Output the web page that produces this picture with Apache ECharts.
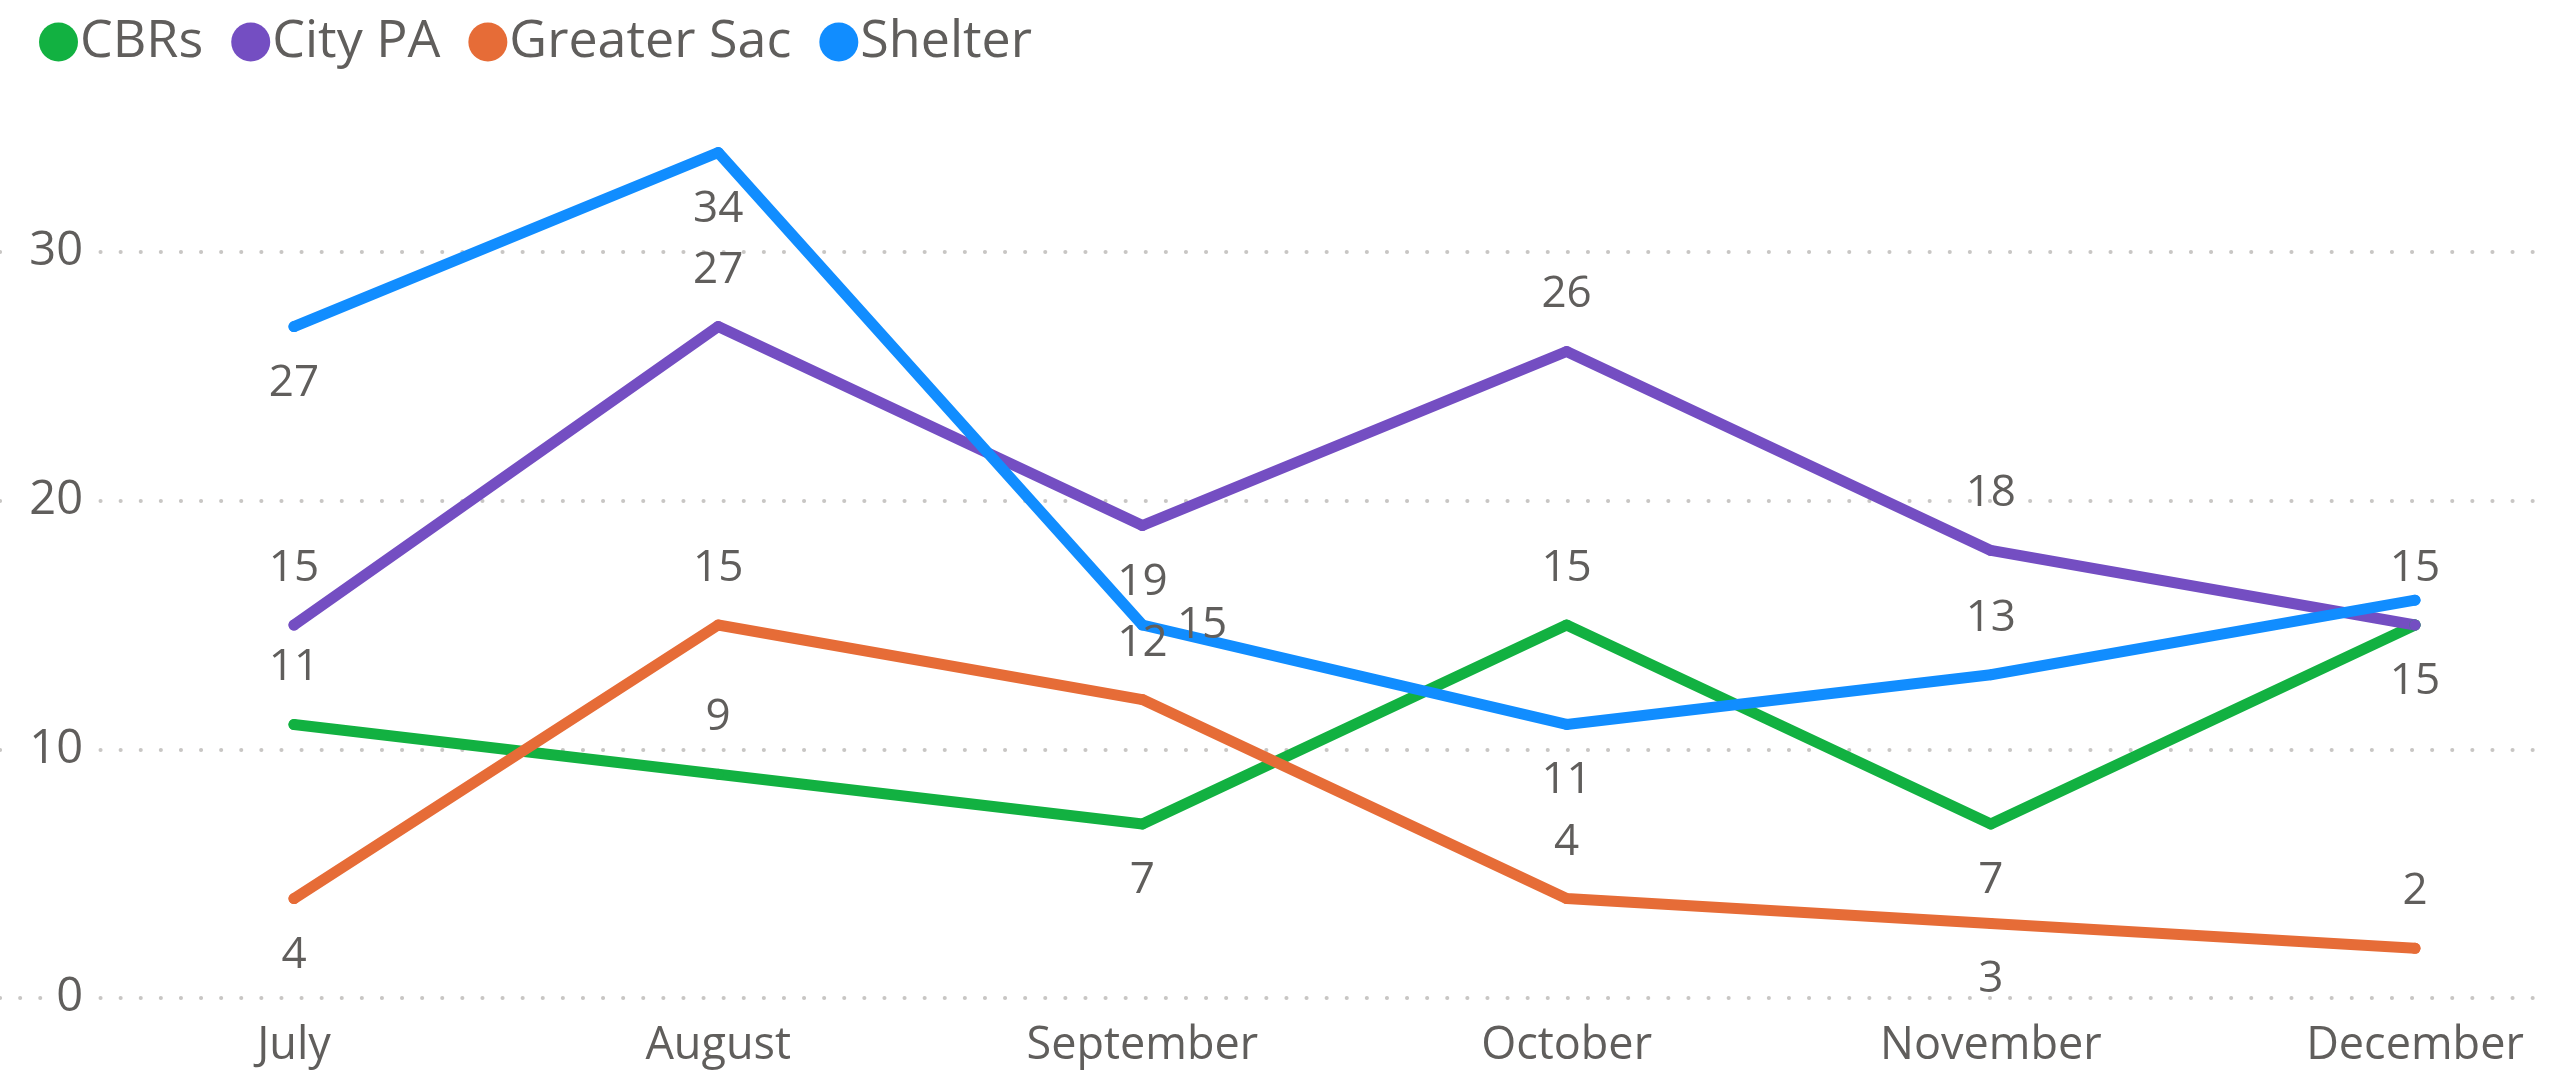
<!DOCTYPE html>
<html lang="en">
<head>
    <meta charset="UTF-8">
    <title>Monthly counts</title>
    <script src="https://cdn.jsdelivr.net/npm/echarts@6/dist/echarts.min.js"></script>
    <style>
        html, body { margin: 0; padding: 0; background: #fff; }
        #main { width: 2550px; height: 1080px; }
    </style>
</head>
<body>
<div id="main"></div>
<script>
    // data
    const months = ['July', 'August', 'September', 'October', 'November', 'December'];
    const cbrs = [11, 9, 7, 15, 7, 15];
    const cityPa = [15, 27, 19, 26, 18, 15];
    const greaterSac = [4, 15, 12, 4, 3, 2];
    const shelter = [27, 34, 15, 11, 13, 16];

    // where each value label sits (null = label hidden, as in the reference)
    const cbrsPos = ['top', 'top', 'bottom', 'top', 'bottom', 'bottom'];
    const cityPaPos = ['top', 'top', 'bottom', 'top', 'top', 'top'];
    const greaterSacPos = ['bottom', 'top', 'top', 'top', 'bottom', 'top'];
    const shelterPos = ['bottom', 'bottom', 'right', 'bottom', 'top', null];

    const textColor = '#605E5C';
    const font = '"Segoe UI", "Open Sans", sans-serif';

    function makeData(values, pos) {
        return values.map(function (v, i) {
            return {
                value: v,
                label: pos[i] ? { position: pos[i] } : { show: false }
            };
        });
    }

    function makeSeries(name, color, values, pos) {
        return {
            name: name,
            type: 'line',
            xAxisIndex: 1,
            yAxisIndex: 1,
            data: makeData(values, pos),
            clip: false,
            symbol: 'circle',
            symbolSize: 11,
            color: color,
            lineStyle: { width: 11, color: color, cap: 'round', join: 'round' },
            itemStyle: { color: color },
            label: {
                show: true,
                distance: 29,
                color: textColor,
                fontSize: 44,
                fontFamily: font
            },
            emphasis: { disabled: true }
        };
    }

    const chart = echarts.init(document.getElementById('main'), null, { renderer: 'canvas' });

    const option = {
        animation: false,
        backgroundColor: '#fff',
        textStyle: { fontFamily: font },
        legend: {
            left: 39,
            top: 16,
            padding: 0,
            icon: 'circle',
            itemWidth: 39,
            itemHeight: 39,
            itemGap: 28,
            textStyle: { fontSize: 52, color: textColor, fontFamily: font, padding: [0, 0, 0, -3] },
            data: ['CBRs', 'City PA', 'Greater Sac', 'Shelter']
        },
        grid: [
            // full-width grid only for the dotted gridlines and y labels
            { left: 0, right: 0, top: 252, bottom: 82 },
            // plot grid: first and last month sit on its edges
            { left: 294, right: 135, top: 252, bottom: 82 }
        ],
        xAxis: [
            { gridIndex: 0, type: 'value', min: 0, max: 1, show: false },
            {
                gridIndex: 1,
                type: 'category',
                data: months,
                boundaryGap: false,
                axisLine: { show: false },
                axisTick: { show: false },
                splitLine: { show: false },
                axisLabel: { fontSize: 45, color: textColor, margin: 26, fontFamily: font }
            }
        ],
        yAxis: [
            {
                gridIndex: 0,
                type: 'value',
                min: 0,
                max: 30,
                interval: 10,
                axisLine: { show: false },
                axisTick: { show: false },
                splitLine: {
                    show: true,
                    lineStyle: { color: '#C8C6C4', width: 4, type: [0.1, 20], cap: 'round' }
                },
                axisLabel: {
                    inside: true,
                    align: 'right',
                    margin: 95,
                    fontSize: 47,
                    color: textColor,
                    fontFamily: font,
                    backgroundColor: '#fff',
                    padding: [4, 12]
                }
            },
            {
                gridIndex: 1,
                type: 'value',
                min: 0,
                max: 30,
                interval: 10,
                show: false
            }
        ],
        series: [
            makeSeries('CBRs', '#12B141', cbrs, cbrsPos),
            makeSeries('City PA', '#744EC2', cityPa, cityPaPos),
            makeSeries('Greater Sac', '#E66C37', greaterSac, greaterSacPos),
            makeSeries('Shelter', '#118DFF', shelter, shelterPos)
        ]
    };

    chart.setOption(option);
</script>
</body>
</html>
